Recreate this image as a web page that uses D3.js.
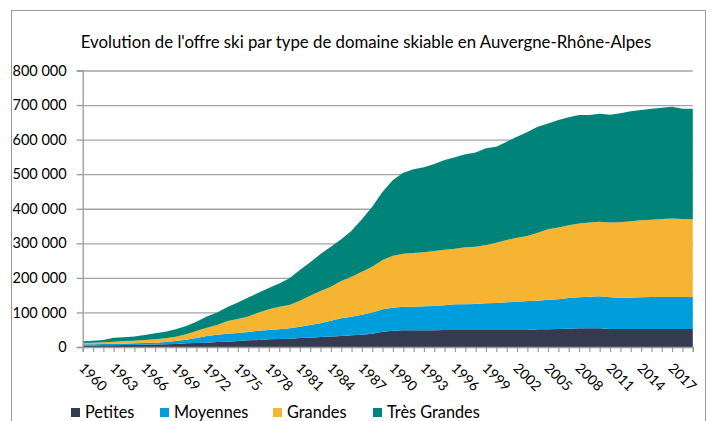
<!DOCTYPE html>
<html>
<head>
<meta charset="utf-8">
<script src="https://cdn.jsdelivr.net/npm/d3@7"></script>
<style>
  html, body { margin: 0; padding: 0; background: #fff; }
  svg { display: block; }
  text { font-family: Lato, "Open Sans", sans-serif; fill: #000; }
</style>
</head>
<body>
<svg id="chart" width="710" height="421"></svg>
<script>
// Seasons 1960 → 2019
const years = d3.range(1960, 2020);

// Offer per ski-area size (same order as years)
const petites = [
  4000, 4000, 4800, 4800, 5800, 5800, 6800, 7000, 7700, 8700,
  10600, 11500, 12500, 14500, 15400, 17400, 19300, 20300, 22200, 23100,
  24000, 26000, 27000, 29000, 30500, 31800, 33800, 35600, 38600, 44300,
  47200, 48200, 48200, 48200, 48200, 49200, 49200, 49200, 49200, 49200,
  49200, 49200, 49200, 49200, 51000, 51000, 52000, 53000, 54000, 54000,
  54000, 52000, 52000, 52000, 52000, 52000, 52000, 52000, 52000, 52000
];
const moyennes = [
  3700, 3700, 3900, 4800, 3800, 4800, 4800, 5500, 6800, 8700,
  10600, 14500, 19300, 21100, 23200, 23100, 24100, 26900, 26800, 27900,
  30000, 32700, 36700, 39500, 45500, 51200, 54000, 57900, 61400, 64700,
  66600, 68400, 68400, 69500, 70400, 71400, 74300, 74300, 75200, 77200,
  78100, 80100, 81800, 83800, 83000, 85900, 86000, 88800, 90000, 91600,
  92600, 91800, 90700, 90700, 91800, 92700, 92700, 92700, 92700, 92700
];
const grandes = [
  3900, 4800, 4800, 5800, 7800, 7700, 8700, 9700, 10500, 12600,
  15800, 20000, 24200, 28400, 36400, 40500, 44600, 52800, 60000, 65600,
  67500, 75300, 84800, 93500, 98500, 108000, 115700, 124500, 132000, 142700,
  150200, 153400, 155400, 156300, 159200, 160900, 160500, 165000, 165600, 168600,
  174500, 180300, 185000, 188000, 196700, 203600, 208000, 210200, 213500, 214400,
  216000, 216200, 218300, 221000, 222800, 223800, 225300, 227300, 225300, 224800
];
const tresGrandes = [
  4900, 5500, 6500, 11100, 11100, 12200, 14200, 17300, 19000, 21000,
  24000, 27000, 32000, 36000, 41000, 48000, 55000, 57000, 62000, 67400,
  77500, 89000, 96500, 107000, 115500, 120600, 133000, 151500, 174000, 197700,
  219000, 234000, 242000, 246000, 251700, 259500, 265000, 269000, 273000, 280000,
  277800, 284400, 292500, 301000, 306800, 306500, 311000, 312600, 313500, 311000,
  312400, 312000, 315000, 318300, 319400, 321000, 322400, 323000, 319500, 320000
];

const seriesNames = ["Petites", "Moyennes", "Grandes", "Très Grandes"];
const seriesColors = ["#353a50", "#009ddd", "#f5b532", "#00847a"];
const yTicks = [0, 100000, 200000, 300000, 400000, 500000, 600000, 700000, 800000];
const labelYears = d3.range(1960, 2018, 3);
const title = "Evolution de l'offre ski par type de domaine skiable en Auvergne-Rhône-Alpes";

// Table for the stack layout
const seriesValues = [petites, moyennes, grandes, tresGrandes];
const table = years.map((yr, i) => {
  const row = { year: yr };
  seriesNames.forEach((n, k) => { row[n] = seriesValues[k][i]; });
  return row;
});

const svg = d3.select("#chart");
const plot = { left: 82.7, right: 692.8, top: 70.5, bottom: 347 };

// Chart frame
svg.append("rect")
  .attr("x", 11.5).attr("y", 10.5)
  .attr("width", 694).attr("height", 420)
  .attr("fill", "none").attr("stroke", "#9a9a9a").attr("stroke-width", 1);

svg.append("text")
  .attr("x", 366).attr("y", 48)
  .attr("text-anchor", "middle")
  .style("font-size", "16.8px")
  .text(title);

const x = d3.scaleLinear().domain([1960, 2019]).range([plot.left, plot.right]);
const y = d3.scaleLinear().domain([0, 800000]).range([plot.bottom, plot.top]);

const fr = d3.formatLocale({ decimal: ",", thousands: "\u00a0", grouping: [3], currency: ["", " €"] });
const fmt = fr.format(",");

// Horizontal gridlines
svg.append("g")
  .attr("transform", `translate(${plot.left},0)`)
  .call(d3.axisLeft(y).tickValues(yTicks.slice(1)).tickSize(-(plot.right - plot.left)).tickFormat(""))
  .call(g => g.select(".domain").remove())
  .call(g => g.selectAll("line").attr("stroke", "#a3a3a3").attr("stroke-width", 1.3));

// Stacked areas
const stack = d3.stack().keys(seriesNames);
const layers = stack(table);
const area = d3.area()
  .x(d => x(d.data.year))
  .y0(d => y(d[0]))
  .y1(d => y(d[1]))
  .curve(d3.curveLinear);

svg.append("g").selectAll("path")
  .data(layers)
  .join("path")
  .attr("d", area)
  .attr("fill", (d, i) => seriesColors[i]);

// Y axis
svg.append("g")
  .attr("transform", `translate(${plot.left},0)`)
  .call(d3.axisLeft(y).tickValues(yTicks).tickSize(6).tickPadding(10).tickFormat(fmt))
  .call(g => g.select(".domain").attr("stroke", "#9a9a9a").attr("stroke-width", 1.3))
  .call(g => g.selectAll("line").attr("stroke", "#9a9a9a").attr("stroke-width", 1.3))
  .call(g => g.selectAll("text").style("font-size", "14.5px").attr("fill", "#000")
    .style("font-family", "Lato, sans-serif"));

// X axis with yearly ticks
svg.append("g")
  .attr("transform", `translate(0,${plot.bottom})`)
  .call(d3.axisBottom(x).tickValues(years).tickSize(5).tickFormat(""))
  .call(g => g.select(".domain").attr("stroke", "#9a9a9a").attr("stroke-width", 1.3))
  .call(g => g.selectAll("line").attr("stroke", "#9a9a9a").attr("stroke-width", 1.2));

// Rotated year labels every third season
svg.append("g").selectAll("text")
  .data(labelYears)
  .join("text")
  .attr("transform", d => `translate(${x(d) - 4.5},369) rotate(45)`)
  .attr("text-anchor", "start")
  .style("font-size", "14px")
  .text(d => d);

// Legend
const legendX = [71, 160, 273, 373];
const legend = svg.append("g").selectAll("g")
  .data(seriesNames)
  .join("g")
  .attr("transform", (d, i) => `translate(${legendX[i]},0)`);
legend.append("rect")
  .attr("x", 0).attr("y", 408)
  .attr("width", 9).attr("height", 9)
  .attr("fill", (d, i) => seriesColors[i]);
legend.append("text")
  .attr("x", 14).attr("y", 418)
  .style("font-size", "16.3px")
  .text(d => d);
</script>
</body>
</html>
